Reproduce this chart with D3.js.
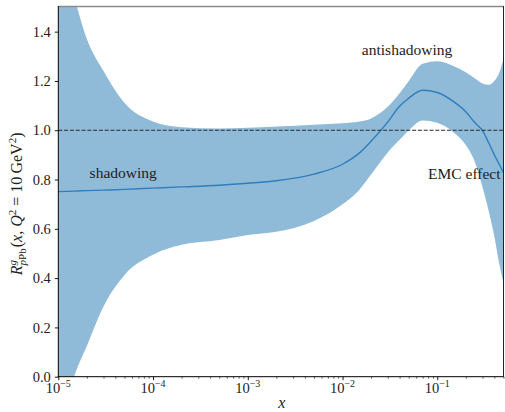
<!DOCTYPE html>
<html>
<head>
<meta charset="utf-8">
<script src="https://cdn.jsdelivr.net/npm/d3@7"></script>
<style>
  html, body { margin: 0; padding: 0; background: #fff; }
  svg { display: block; }
  text { font-family: "Liberation Serif", "DejaVu Serif", serif; fill: #222; }
</style>
</head>
<body>
<svg id="chart" width="505" height="412"></svg>
<script>
// Gluon nuclear modification ratio R^g_pPb(x, Q^2 = 10 GeV^2)
const xValues = [1e-5, 1.5e-5, 2e-5, 3e-5, 5e-5, 1e-4, 2e-4, 5e-4, 1e-3, 2e-3, 5e-3,
                 1e-2, 1.5e-2, 2e-2, 3e-2, 4e-2, 5e-2, 7e-2, 0.1, 0.15, 0.2, 0.25,
                 0.3, 0.35, 0.4, 0.45, 0.5];
const central = [0.751, 0.753, 0.755, 0.757, 0.760, 0.765, 0.770, 0.777, 0.785, 0.795, 0.822,
                 0.862, 0.907, 0.955, 1.033, 1.097, 1.130, 1.162, 1.153, 1.115, 1.075, 1.030,
                 0.998, 0.948, 0.900, 0.862, 0.828];
const upper   = [1.80, 1.53, 1.37, 1.24, 1.11, 1.035, 1.012, 1.007, 1.010, 1.015, 1.022,
                 1.028, 1.035, 1.048, 1.095, 1.150, 1.200, 1.270, 1.280, 1.260, 1.235, 1.210,
                 1.190, 1.185, 1.200, 1.232, 1.290];
const lower   = [-0.25, 0.01, 0.125, 0.285, 0.413, 0.495, 0.535, 0.555, 0.575, 0.588, 0.632,
                 0.700, 0.758, 0.820, 0.910, 0.961, 1.000, 1.040, 1.030, 0.990, 0.940, 0.870,
                 0.770, 0.670, 0.570, 0.460, 0.380];

const yTickValues = [0.0, 0.2, 0.4, 0.6, 0.8, 1.0, 1.2, 1.4];
const xTickExponents = [-5, -4, -3, -2, -1];

const annotations = [
  { text: "shadowing", x: 2.14e-5, y: 0.805 },
  { text: "antishadowing", x: 1.6e-2, y: 1.305 },
  { text: "EMC effect", x: 0.080, y: 0.803 }
];

const plot = { left: 58.3, right: 503.5, top: 7, bottom: 376.7 };

const svg = d3.select("#chart");
const x = d3.scaleLog().domain([1e-5, 0.5]).range([plot.left, plot.right]);
const y = d3.scaleLinear().domain([0, 1.5]).range([plot.bottom, plot.top]);

svg.append("defs").append("clipPath").attr("id", "plotClip")
  .append("rect")
  .attr("x", plot.left).attr("y", plot.top)
  .attr("width", plot.right - plot.left).attr("height", plot.bottom - plot.top);

const rows = xValues.map((xv, i) => ({ x: xv, c: central[i], hi: upper[i], lo: lower[i] }));

const body = svg.append("g").attr("clip-path", "url(#plotClip)");

// uncertainty band
body.append("path")
  .datum(rows)
  .attr("fill", "#8fbbd9")
  .attr("d", d3.area()
    .x(d => x(d.x))
    .y0(d => y(d.lo))
    .y1(d => y(d.hi))
    .curve(d3.curveMonotoneX));

// central value
body.append("path")
  .datum(rows)
  .attr("fill", "none")
  .attr("stroke", "#2f7ebc")
  .attr("stroke-width", 1.4)
  .attr("d", d3.line()
    .x(d => x(d.x))
    .y(d => y(d.c))
    .curve(d3.curveMonotoneX));

// reference line at unity
body.append("line")
  .attr("x1", plot.left).attr("x2", plot.right)
  .attr("y1", y(1)).attr("y2", y(1))
  .attr("stroke", "#2a2a2a")
  .attr("stroke-width", 1.2)
  .attr("stroke-dasharray", "4,1.8");

// annotations
annotations.forEach(a => {
  svg.append("text")
    .attr("x", x(a.x)).attr("y", y(a.y))
    .attr("font-size", 15.5)
    .text(a.text);
});

// y axis
const yAxis = d3.axisLeft(y).tickValues(yTickValues)
  .tickFormat(d3.format(".1f")).tickSize(3.5).tickPadding(4);
const gy = svg.append("g").attr("transform", `translate(${plot.left},0)`).call(yAxis);
gy.select(".domain").remove();
gy.selectAll(".tick line").attr("stroke", "#000").attr("stroke-width", 0.9);
gy.selectAll(".tick text").attr("font-size", 14.5).attr("fill", "#222")
  .attr("font-family", "Liberation Serif, serif");

// x axis: major ticks at decades, minor ticks in between
const minor = [];
for (let e = -5; e <= -1; e++) {
  for (let m = 2; m <= 9; m++) {
    const v = m * Math.pow(10, e);
    if (v <= 0.5 + 1e-9) minor.push(v);
  }
}
const gxMinor = svg.append("g").attr("transform", `translate(0,${plot.bottom})`)
  .call(d3.axisBottom(x).tickValues(minor).tickSize(2).tickFormat(""));
gxMinor.select(".domain").remove();
gxMinor.selectAll(".tick line").attr("stroke", "#000").attr("stroke-width", 0.6);

const majors = xTickExponents.map(e => Math.pow(10, e));
const gx = svg.append("g").attr("transform", `translate(0,${plot.bottom})`)
  .call(d3.axisBottom(x).tickValues(majors).tickSize(3.5).tickFormat(""));
gx.select(".domain").remove();
gx.selectAll(".tick line").attr("stroke", "#000").attr("stroke-width", 0.9);

xTickExponents.forEach(e => {
  const t = svg.append("text")
    .attr("x", x(Math.pow(10, e)))
    .attr("y", 393)
    .attr("text-anchor", "middle")
    .attr("font-size", 14.5);
  t.append("tspan").text("10");
  t.append("tspan").attr("font-size", 10).attr("dy", -6).text("\u2212" + Math.abs(e));
});

// spines
svg.append("line").attr("x1", plot.left).attr("x2", plot.right)
  .attr("y1", plot.top - 0.5).attr("y2", plot.top - 0.5)
  .attr("stroke", "#8a8a8a").attr("stroke-width", 1.4);
svg.append("line").attr("x1", plot.left).attr("x2", plot.left)
  .attr("y1", plot.top - 1).attr("y2", plot.bottom + 0.5)
  .attr("stroke", "#000").attr("stroke-width", 1);
svg.append("line").attr("x1", plot.left - 0.5).attr("x2", plot.right + 0.5)
  .attr("y1", plot.bottom).attr("y2", plot.bottom)
  .attr("stroke", "#000").attr("stroke-width", 1);
svg.append("line").attr("x1", plot.right).attr("x2", plot.right)
  .attr("y1", plot.top - 1).attr("y2", plot.bottom + 0.5)
  .attr("stroke", "#222").attr("stroke-width", 1);

// axis titles
svg.append("text")
  .attr("x", (plot.left + plot.right) / 2 + 1)
  .attr("y", 408)
  .attr("text-anchor", "middle")
  .attr("font-size", 16)
  .attr("font-style", "italic")
  .text("x");

const yl = svg.append("text")
  .attr("transform", `translate(22,${(plot.top + plot.bottom) / 2 + 12}) rotate(-90)`)
  .attr("text-anchor", "middle")
  .attr("font-size", 16);
yl.append("tspan").attr("font-style", "italic").text("R");
yl.append("tspan").attr("font-style", "italic").attr("font-size", 11).attr("dy", -6).text("g");
yl.append("tspan").attr("font-style", "italic").attr("font-size", 11).attr("dx", -5.5).attr("dy", 10).text("p");
yl.append("tspan").attr("font-size", 11).text("Pb");
yl.append("tspan").attr("dy", -4).attr("dx", 1).text("(");
yl.append("tspan").attr("font-style", "italic").text("x");
yl.append("tspan").text(", ");
yl.append("tspan").attr("font-style", "italic").text("Q");
yl.append("tspan").attr("font-size", 11).attr("dy", -6).text("2");
yl.append("tspan").attr("dy", 6).text(" = 10\u2009GeV");
yl.append("tspan").attr("font-size", 11).attr("dy", -6).text("2");
yl.append("tspan").attr("dy", 6).text(")");
</script>
</body>
</html>
